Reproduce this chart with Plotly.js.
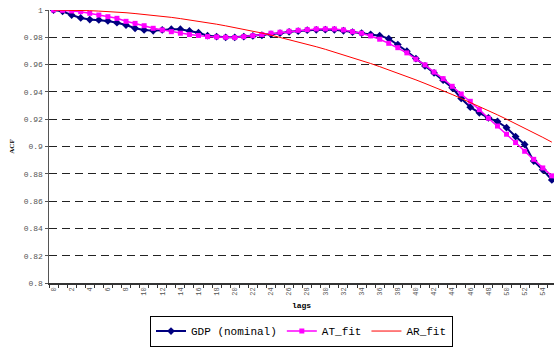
<!DOCTYPE html>
<html>
<head>
<meta charset="utf-8">
<script src="https://cdn.plot.ly/plotly-3.0.1.min.js"></script>
<style>html,body{margin:0;padding:0;background:#fff;}#chart{width:554px;height:347px;}</style>
</head>
<body>
<div id="chart"></div>
<script>
var lags = [];
for (var i = 0; i <= 55; i++) lags.push(i);

var gdpNominal = [1.0, 0.999, 0.9963, 0.9942, 0.993, 0.9927, 0.992, 0.9907, 0.989, 0.9866,
  0.9854, 0.9848, 0.9854, 0.9859, 0.9859, 0.9846, 0.9834, 0.9812, 0.9805, 0.98,
  0.98, 0.9805, 0.981, 0.9815, 0.9822, 0.983, 0.984, 0.9845, 0.9852, 0.9855,
  0.9856, 0.9855, 0.9848, 0.9838, 0.983, 0.9822, 0.9812, 0.979, 0.9747, 0.9698,
  0.9644, 0.959, 0.9539, 0.9486, 0.943, 0.9352, 0.9288, 0.9247, 0.921, 0.9183,
  0.9138, 0.9073, 0.9015, 0.8893, 0.8829, 0.8755];

var atFit = [1.0, 0.9998, 0.9993, 0.9988, 0.9976, 0.9963, 0.9951, 0.9939, 0.9917, 0.9902,
  0.9885, 0.9866, 0.9854, 0.9841, 0.983, 0.982, 0.9813, 0.9805, 0.9803, 0.98,
  0.9798, 0.9805, 0.9812, 0.982, 0.983, 0.9837, 0.9844, 0.9851, 0.9856, 0.9861,
  0.9861, 0.9861, 0.9854, 0.9841, 0.983, 0.981, 0.9786, 0.9756, 0.9724, 0.9686,
  0.964, 0.9598, 0.9545, 0.9497, 0.9441, 0.9385, 0.9331, 0.927, 0.9207, 0.915,
  0.909, 0.9029, 0.8965, 0.8906, 0.8843, 0.8785];

var arFit = [1.0, 1.0, 0.9999, 0.9997, 0.9995, 0.9992, 0.9989, 0.9984, 0.998, 0.9974,
  0.9968, 0.9961, 0.9954, 0.9946, 0.9937, 0.9928, 0.9918, 0.9908, 0.9896, 0.9884,
  0.9872, 0.9859, 0.9845, 0.9831, 0.9816, 0.98, 0.9784, 0.9767, 0.9749, 0.9731,
  0.9712, 0.9692, 0.9672, 0.9651, 0.963, 0.9608, 0.9585, 0.9562, 0.9538, 0.9513,
  0.9488, 0.9462, 0.9436, 0.9408, 0.9381, 0.9352, 0.9323, 0.9293, 0.9263, 0.9232,
  0.92, 0.9168, 0.9135, 0.9101, 0.9067, 0.9032];

var yTicks = [0.8, 0.82, 0.84, 0.86, 0.88, 0.9, 0.92, 0.94, 0.96, 0.98, 1];
var yTickText = ["0.8", "0.82", "0.84", "0.86", "0.88", "0.9", "0.92", "0.94", "0.96", "0.98", "1"];
var xTicks = [];
for (var j = 0; j <= 54; j += 2) xTicks.push(j);
var xTickText = xTicks.map(String);

var mono = "'Liberation Mono', 'Courier New', monospace";

var traces = [
  {x: lags, y: gdpNominal, name: "GDP (nominal)", type: "scatter", mode: "lines+markers",
   line: {color: "#000080", width: 2}, marker: {symbol: "diamond", size: 6, color: "#000080"}},
  {x: lags, y: atFit, name: "AT_fit", type: "scatter", mode: "lines+markers",
   line: {color: "#FF00FF", width: 1.5}, marker: {symbol: "square", size: 5, color: "#FF00FF"}},
  {x: lags, y: arFit, name: "AR_fit", type: "scatter", mode: "lines",
   line: {color: "#FF0000", width: 1}}
];

var layout = {
  width: 554, height: 347,
  margin: {l: 49, r: 0, t: 10, b: 64, pad: 0, autoexpand: false},
  paper_bgcolor: "#fff", plot_bgcolor: "#fff",
  showlegend: true,
  legend: {orientation: "h", x: 0.5, xanchor: "center", xref: "paper",
    y: 0.046, yanchor: "middle", yref: "container",
    font: {family: mono, size: 11, color: "#000"},
    bordercolor: "#000", borderwidth: 1, bgcolor: "#fff", itemwidth: 30,
    tracegroupgap: 0},
  xaxis: {
    automargin: false,
    range: [-0.5, 55.24], showgrid: false, zeroline: false,
    showline: true, linecolor: "#333", linewidth: 1.5,
    tickmode: "array", tickvals: xTicks, ticktext: xTickText, ticks: "",
    tickangle: -90, tickfont: {family: mono, size: 7, color: "#555"},
    minor: {ticks: "outside", tick0: -0.5, dtick: 1, ticklen: 3, tickcolor: "#333", showgrid: false},
    title: {text: "<b>lags</b>", font: {family: mono, size: 8, color: "#000"}, standoff: 7}
  },
  yaxis: {
    automargin: false,
    range: [0.8, 1], zeroline: false,
    showline: true, linecolor: "#555", linewidth: 1.5,
    tickmode: "array", tickvals: yTicks, ticktext: yTickText,
    ticks: "outside", ticklen: 3, tickcolor: "#555",
    tickfont: {family: mono, size: 8, color: "#555"},
    showgrid: true, gridcolor: "#222", gridwidth: 1, griddash: "8px,5px",
    title: {text: "<b>ACF</b>", font: {family: "'Liberation Serif', 'Times New Roman', serif", size: 7, color: "#000"}, standoff: 8}
  }
};

Plotly.newPlot("chart", traces, layout, {displayModeBar: false, staticPlot: true});
</script>
</body>
</html>
